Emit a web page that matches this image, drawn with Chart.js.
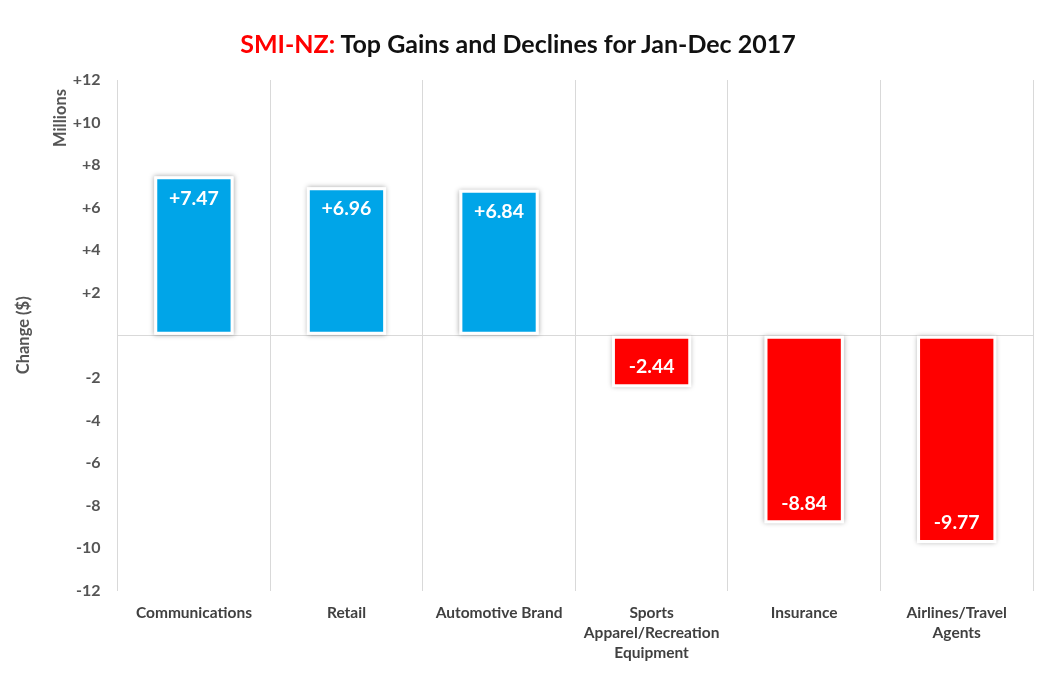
<!DOCTYPE html>
<html>
<head>
<meta charset="utf-8">
<script src="https://cdn.jsdelivr.net/npm/chart.js@4/dist/chart.umd.min.js"></script>
<style>
  body { margin: 0; background: #fff; }
  #wrap { position: relative; width: 1051px; height: 690px; }
  #title {
    position: absolute; top: 28px; left: 0; width: 1036px; text-align: center;
    font-family: Lato, sans-serif; font-weight: bold; font-size: 25px; color: #111;
  }
  #title .brand { color: #ff0000; }
</style>
</head>
<body>
<div id="wrap">
  <div id="title"><span class="brand">SMI-NZ:</span> Top Gains and Declines for Jan-Dec 2017</div>
  <canvas id="chart" width="1051" height="690"></canvas>
</div>
<script>
const categories = [
  "Communications",
  "Retail",
  "Automotive Brand",
  ["Sports", "Apparel/Recreation", "Equipment"],
  "Insurance",
  ["Airlines/Travel", "Agents"]
];
const changes = [7.47, 6.96, 6.84, -2.44, -8.84, -9.77];
const yTicks = [12, 10, 8, 6, 4, 2, 0, -2, -4, -6, -8, -10, -12];

const blue = "#00a5e8";
const red = "#ff0000";
const axisGrey = "#555555";

// soft grey shadow behind each bar
const barShadow = {
  id: "barShadow",
  beforeDatasetsDraw(chart) {
    const ctx = chart.ctx;
    chart.getDatasetMeta(0).data.forEach((bar) => {
      const top = Math.min(bar.y, bar.base);
      const h = Math.abs(bar.base - bar.y);
      ctx.save();
      ctx.shadowColor = "rgba(0,0,0,0.35)";
      ctx.shadowBlur = 5;
      ctx.fillStyle = "#fff";
      ctx.fillRect(bar.x - bar.width / 2, top, bar.width, h);
      ctx.restore();
    });
  }
};

// value labels inside the bar ends
const valueLabels = {
  id: "valueLabels",
  afterDatasetsDraw(chart) {
    const ctx = chart.ctx;
    ctx.save();
    ctx.font = "bold 19.5px Lato";
    ctx.fillStyle = "#fff";
    ctx.textAlign = "center";
    ctx.textBaseline = "middle";
    chart.getDatasetMeta(0).data.forEach((bar, i) => {
      const v = changes[i];
      const txt = (v > 0 ? "+" : "") + v.toFixed(2);
      const y = v >= 0 ? bar.y + 22 : bar.y - 20;
      ctx.fillText(txt, bar.x, y);
    });
    ctx.restore();
  }
};

// the small "Millions" unit label at the top of the y axis
const unitLabel = {
  id: "unitLabel",
  afterDraw(chart) {
    const ctx = chart.ctx;
    const top = chart.scales.y.getPixelForValue(12);
    ctx.save();
    ctx.translate(61, top + 38);
    ctx.rotate(-Math.PI / 2);
    ctx.font = "bold 16.5px Lato";
    ctx.fillStyle = axisGrey;
    ctx.textAlign = "center";
    ctx.textBaseline = "middle";
    ctx.fillText("Millions", 0, 0);
    ctx.restore();
  }
};

new Chart(document.getElementById("chart"), {
  type: "bar",
  data: {
    labels: categories,
    datasets: [
      {
        data: changes,
        backgroundColor: changes.map((v) => (v >= 0 ? blue : red)),
        borderColor: "#fff",
        borderWidth: 3,
        borderSkipped: false,
        barPercentage: 0.52,
        categoryPercentage: 1
      }
    ]
  },
  options: {
    responsive: false,
    animation: false,
    devicePixelRatio: 1,
    layout: { padding: { top: 80, right: 18, bottom: 15, left: 10 } },
    plugins: {
      legend: { display: false },
      tooltip: { enabled: false }
    },
    scales: {
      x: {
        offset: true,
        grid: { offset: true, color: "#d9d9d9", lineWidth: 1, drawTicks: false },
        border: { display: false },
        ticks: {
          color: "#404040",
          font: { family: "Lato", weight: "bold", size: 15.5, lineHeight: 1.3 },
          padding: 12,
          maxRotation: 0
        }
      },
      y: {
        min: -12,
        max: 12,
        afterBuildTicks: (axis) => {
          axis.ticks = yTicks.map((v) => ({ value: v }));
        },
        grid: {
          color: (c) => (c.tick && c.tick.value === 0 ? "#d9d9d9" : "rgba(0,0,0,0)"),
          drawTicks: false
        },
        border: { display: true, color: "#d9d9d9" },
        ticks: {
          color: axisGrey,
          font: { family: "Lato", weight: "bold", size: 16 },
          padding: 17,
          callback: (v) => (v === 0 ? "" : v > 0 ? "+" + v : String(v))
        },
        title: {
          display: true,
          text: "Change ($)",
          color: axisGrey,
          font: { family: "Lato", weight: "bold", size: 16.5 },
          padding: { bottom: 22 }
        }
      }
    }
  },
  plugins: [barShadow, valueLabels, unitLabel]
});
</script>
</body>
</html>
